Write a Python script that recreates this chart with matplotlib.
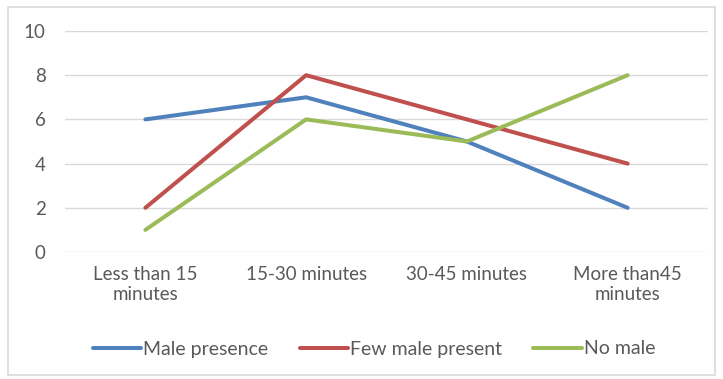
import matplotlib
matplotlib.use("Agg")
import matplotlib.pyplot as plt
from matplotlib.patches import Rectangle

categories = ["Less than 15\nminutes", "15-30 minutes", "30-45 minutes", "More than45\nminutes"]
male_presence = [6, 7, 5, 2]
few_male_present = [2, 8, 6, 4]
no_male = [1, 6, 5, 8]
series_names = ["Male presence", "Few male present", "No male"]
colors = ["#4F81BD", "#C0504D", "#9BBB59"]

plt.rcParams['font.family'] = ['Lato', 'DejaVu Sans']
W, H = 723, 379
fig = plt.figure(figsize=(W/100, H/100), dpi=100)
fig.patches.append(Rectangle((8/W, 1-375/H), (715-8)/W, (375-7)/H, transform=fig.transFigure,
                             fill=False, edgecolor="#D9D9D9", linewidth=1.2))
ax = fig.add_axes([65/W, 1-252/H, (708-65)/W, (252-31)/H])
x = list(range(len(categories)))
for vals, name, c in zip([male_presence, few_male_present, no_male], series_names, colors):
    ax.plot(x, vals, color=c, linewidth=2.9, label=name, solid_capstyle='round', solid_joinstyle='round')
ax.set_xlim(-0.5, 3.5)
ax.set_ylim(0, 10)
ax.set_yticks(range(0, 11, 2))
ax.set_xticks(x)
ax.set_xticklabels(categories, fontsize=13.5, color="#595959", linespacing=1.2)
ax.tick_params(axis='y', labelsize=13.5, labelcolor="#595959", length=0, pad=14)
ax.tick_params(axis='x', length=0, pad=10)
ax.grid(axis='y', color="#D9D9D9", linewidth=1)
ax.set_axisbelow(True)
for s in ax.spines.values():
    s.set_visible(False)
leg = fig.legend(loc='center', bbox_to_anchor=(374/W, 1-349/H), ncol=3, frameon=False,
                 fontsize=14, handlelength=2.5, handletextpad=0.1, columnspacing=1.6, labelcolor="#595959")
fig.savefig("out.png", dpi=100)
